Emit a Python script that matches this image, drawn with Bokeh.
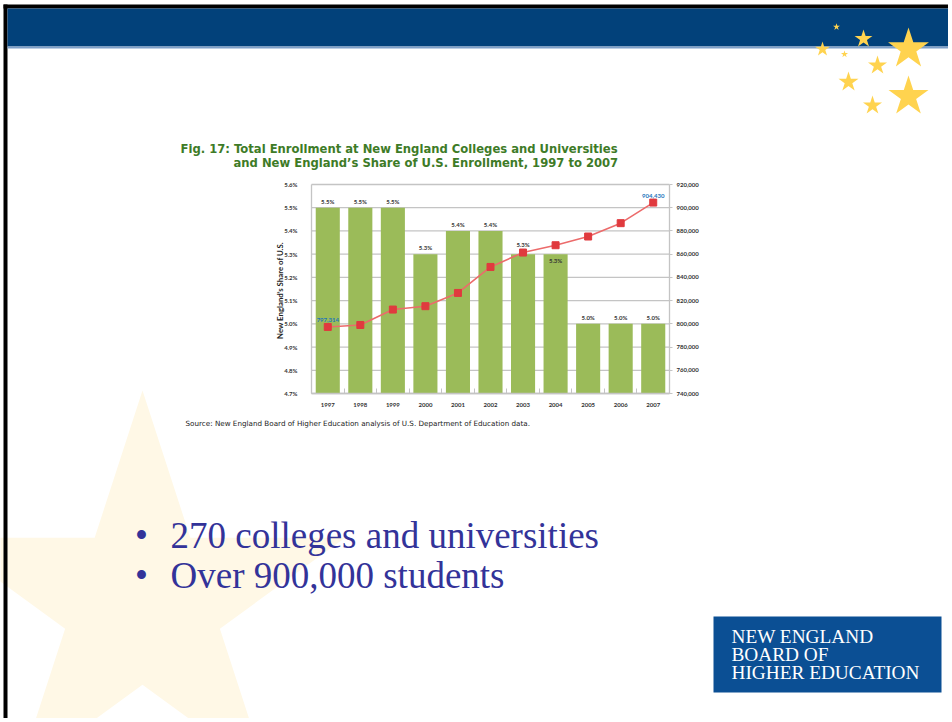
import math
from bokeh.plotting import figure
from bokeh.models import (Range1d, LinearAxis, FixedTicker, PrintfTickFormatter,
                          NumeralTickFormatter, ColumnDataSource)
from bokeh.embed import file_html
from bokeh.resources import INLINE
from bokeh.core.properties import value

# ---------------- data ----------------
years = ["1997", "1998", "1999", "2000", "2001", "2002", "2003", "2004", "2005", "2006", "2007"]
share_pct = [5.5, 5.5, 5.5, 5.3, 5.4, 5.4, 5.3, 5.3, 5.0, 5.0, 5.0]
share_labels = ["5.5%", "5.5%", "5.5%", "5.3%", "5.4%", "5.4%", "5.3%", "5.3%", "5.0%", "5.0%", "5.0%"]
enrollment = [797314, 799000, 812300, 815200, 826600, 849000, 861400, 867700, 875200, 886700, 904430]
enroll_callouts = ["797,314", "", "", "", "", "", "", "", "", "", "904,430"]
share_ticks = [4.7, 4.8, 4.9, 5.0, 5.1, 5.2, 5.3, 5.4, 5.5, 5.6]
enroll_ticks = [740000, 760000, 780000, 800000, 820000, 840000, 860000, 880000, 900000, 920000]

title_lines = ["Fig. 17: Total Enrollment at New England Colleges and Universities",
               "and New England\u2019s Share of U.S. Enrollment, 1997 to 2007"]
y_axis_title = "New England\u2019s Share of U.S."
source_note = "Source: New England Board of Higher Education analysis of U.S. Department of Education data."
bullets = ["270 colleges and universities", "Over 900,000 students"]
logo_lines = ["NEW ENGLAND", "BOARD OF", "HIGHER EDUCATION"]

# vertical pixel offsets of the share labels (negative = up)
label_yoff = [-3, -3, -3, -3, -3, -3, -6, 10, -3, -3, -3]

# ---------------- layout ----------------
W, H = 948, 718
FL, FR, FT, FB = 311, 669, 184, 393   # chart plot area in page pixels

GREEN_BAR = "#9BBB59"
GRID = "#C4C4C4"
CHART_FONT = "Lato"
HEAD_FONT = "DejaVu Sans"
TXT = "#333333"

# the figure's frame is the whole slide; page pixels, y downwards
p = figure(width=W, height=H, output_backend="svg", toolbar_location=None,
           x_range=Range1d(0, W), y_range=Range1d(H, 0),
           x_axis_location=None, y_axis_location=None,
           min_border=0, min_border_left=0, min_border_right=0,
           min_border_top=0, min_border_bottom=0)
p.background_fill_color = "white"
p.border_fill_color = "white"
p.outline_line_color = None
p.xgrid.visible = False
p.ygrid.visible = False

# chart ranges, placed so that the chart occupies FL..FR x FT..FB
n = len(years)
x_lo, x_hi = -0.5, n - 0.5
ux = (FR - FL) / (x_hi - x_lo)
s_lo, s_hi = share_ticks[0], share_ticks[-1]
us = (FB - FT) / (s_hi - s_lo)
e_lo, e_hi = enroll_ticks[0], enroll_ticks[-1]
ue = (FB - FT) / (e_hi - e_lo)
p.extra_x_ranges = {"cat": Range1d(x_lo - FL / ux, x_hi + (W - FR) / ux)}
p.extra_y_ranges = {"share": Range1d(s_lo - (H - FB) / us, s_hi + FT / us),
                    "enr": Range1d(e_lo - (H - FB) / ue, e_hi + FT / ue)}


def rect(l, t, r, b, color):
    p.quad(left=[l], right=[r], top=[t], bottom=[b], fill_color=color, line_color=None)


def star(cxp, cyp, R, color):
    r = R * 0.382
    px, py = [], []
    for k in range(10):
        ang = math.radians(90 + 36 * k)
        rad = R if k % 2 == 0 else r
        px.append(cxp + rad * math.cos(ang))
        py.append(cyp - rad * math.sin(ang))
    p.patch(px, py, fill_color=color, line_color=None)


def text(x, y, t, font, size, color, style="normal", align="left", baseline="middle", angle=0.0):
    p.text(x=[x], y=[y], text=[t], text_font=value(font), text_font_size=size,
           text_font_style=style, text_color=color, text_align=align,
           text_baseline=baseline, angle=angle)


# ---------------- slide decorations ----------------
star(142, 603, 213, "#FFF8E6")            # large pale background star

rect(3, 4, W, 8, "#000000")                # slide border (top)
rect(3, 4, 7, H, "#000000")                # slide border (left)
rect(7, 8, W, 46, "#02417A")               # title banner
rect(7, 46, W, 48, "#7E9FC8")

for (sx, sy, R) in [(908, 48.5, 21.5), (908, 96, 21), (863, 38.4, 9.4), (822, 48.7, 7.7),
                    (836, 26.4, 3.7), (844, 53.7, 3.7), (877, 65, 10), (848, 81.5, 10.5),
                    (872, 105, 10)]:
    star(sx, sy, R, "#FFD34F")

rect(713, 616, 941, 692, "#0B4F94")        # logo box
for i, t in enumerate(logo_lines):
    text(731, 636 + 18 * i, t, "Liberation Serif", "19.3px", "white")

for i, t in enumerate(bullets):
    text(141, 535 + 40 * i, "\u2022", "Liberation Serif", "37px", "#333399", align="center")
    text(170, 535 + 40 * i, t, "Liberation Serif", "37px", "#333399")

text(180, 148.5, title_lines[0], HEAD_FONT, "11.6px", "#3E7B27", style="bold")
text(233, 162, title_lines[1], HEAD_FONT, "11.6px", "#3E7B27", style="bold")
text(185, 423, source_note, HEAD_FONT, "7.2px", "#222222")
text(279, 290, y_axis_title, CHART_FONT, "7.8px", "#222222", style="bold",
     align="center", angle=math.pi / 2)

# ---------------- chart ----------------
xs = list(range(n))
src = ColumnDataSource(dict(x=xs, share=share_pct, lab=share_labels, enr=enrollment,
                            call=enroll_callouts, yoff=label_yoff))
grid_src = ColumnDataSource(dict(x0=[x_lo] * len(share_ticks), x1=[x_hi] * len(share_ticks),
                                 y=share_ticks))

p.segment(x0="x0", x1="x1", y0="y", y1="y", source=grid_src, x_range_name="cat",
          y_range_name="share", line_color=GRID, line_width=1.3)

p.vbar(x="x", top="share", bottom=s_lo, width=0.74, source=src,
       x_range_name="cat", y_range_name="share", fill_color=GREEN_BAR, line_color=None)

p.line(x="x", y="enr", source=src, x_range_name="cat", y_range_name="enr",
       line_color="#EC6B6B", line_width=1.6)
p.scatter(x="x", y="enr", source=src, x_range_name="cat", y_range_name="enr",
          marker="square", size=7, fill_color="#E03A3E", line_color="#E03A3E")

p.text(x="x", y="share", text="lab", source=src, x_range_name="cat", y_range_name="share",
       y_offset="yoff", text_font=value(CHART_FONT), text_font_style="bold",
       text_font_size="6px", text_color=TXT, text_align="center", text_baseline="bottom")

p.text(x="x", y="enr", text="call", source=src, x_range_name="cat", y_range_name="enr",
       y_offset=-5, text_font=value(CHART_FONT), text_font_style="bold",
       text_font_size="6px", text_color="#1B75BB", text_align="center", text_baseline="bottom")


def style_axis(ax):
    ax.axis_line_color = GRID
    ax.axis_line_width = 1.3
    ax.minor_tick_line_color = None
    ax.major_label_text_font = CHART_FONT
    ax.major_label_text_font_style = "bold"
    ax.major_label_text_font_size = "6px"
    ax.major_label_text_color = TXT


xaxis = LinearAxis(x_range_name="cat", y_range_name="share", fixed_location=s_lo,
                   bounds=(x_lo, x_hi),
                   ticker=FixedTicker(ticks=xs, minor_ticks=[i - 0.5 for i in range(n + 1)]),
                   major_label_overrides={i: y for i, y in enumerate(years)})
style_axis(xaxis)
xaxis.major_tick_line_color = None
xaxis.minor_tick_line_color = GRID
xaxis.minor_tick_in = 5
xaxis.minor_tick_out = 0
xaxis.major_label_standoff = 3
p.add_layout(xaxis, "below")

laxis = LinearAxis(x_range_name="cat", y_range_name="share", fixed_location=x_lo,
                   bounds=(s_lo, s_hi), ticker=FixedTicker(ticks=share_ticks),
                   formatter=PrintfTickFormatter(format="%.1f%%"))
style_axis(laxis)
laxis.major_tick_line_color = None
laxis.major_label_standoff = 8
p.add_layout(laxis, "left")

raxis = LinearAxis(x_range_name="cat", y_range_name="enr", fixed_location=x_hi,
                   bounds=(e_lo, e_hi), ticker=FixedTicker(ticks=enroll_ticks),
                   formatter=NumeralTickFormatter(format="0,0"))
style_axis(raxis)
raxis.major_tick_out = 3
raxis.major_tick_in = 0
raxis.major_tick_line_color = GRID
raxis.major_label_standoff = 4
p.add_layout(raxis, "right")

open("out.html", "w").write(file_html(p, INLINE))
